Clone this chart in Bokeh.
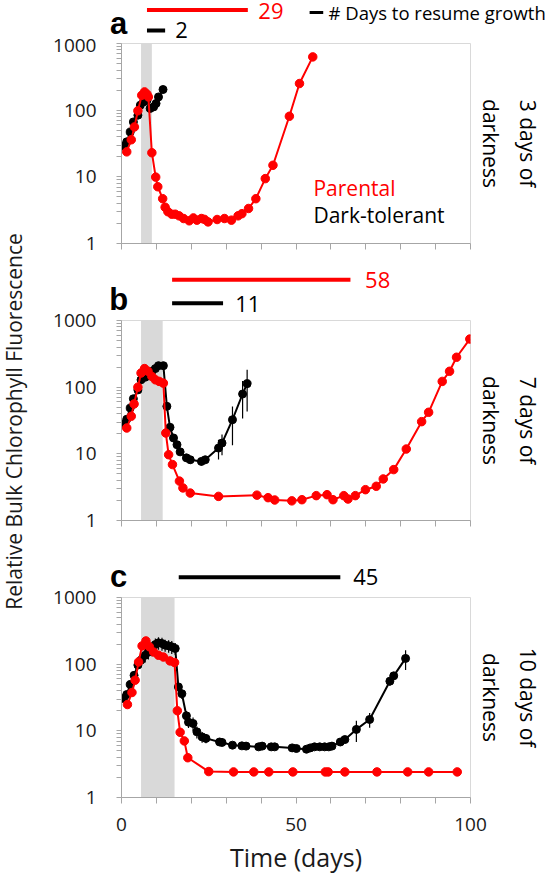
from math import pi
from bokeh.plotting import figure
from bokeh.models import Range1d, FixedTicker, PrintfTickFormatter, BoxAnnotation, Title
from bokeh.core.properties import value
from bokeh.layouts import row, column
from bokeh.embed import file_html
from bokeh.resources import INLINE

# ---------------- data (days, relative fluorescence) ----------------
# Panel a: 3 days of darkness
a_par_t = [1.5, 2.8, 3.7, 4.7, 5.8, 6.6, 7.3, 7.7, 8.7, 9.8, 10.4, 11.8, 12.5, 13.3, 14.4, 15.4, 16.5, 17.8,
           19.4, 20.6, 21.6, 22.9, 23.8, 24.8, 27.4, 29.5, 31.5, 33.4, 34.5, 36.4, 38.5, 41.2, 43.4, 48.1, 51.0, 54.8]
a_par_v = [23.7, 36, 56, 98, 167, 188, 173, 158, 23, 9.9, 7.1, 4.7, 3.5, 3.0, 2.75, 2.75, 2.6, 2.37,
           2.19, 2.42, 2.24, 2.37, 2.3, 2.11, 2.29, 2.37, 2.24, 2.6, 2.8, 3.35, 4.7, 9.4, 14.9, 81, 251, 630]
a_dt_t = [0.6, 1.5, 2.5, 3.4, 4.7, 5.4, 6.3, 7.3, 8.2, 9.2, 9.9, 10.6, 11.9]
a_dt_v = [28.8, 33.5, 47, 66.6, 84, 119, 133, 141, 106, 112, 126, 158, 204]

# Panel b: 7 days of darkness
b_par_t = [1.5, 2.8, 3.6, 4.7, 5.6, 6.6, 7.6, 8.7, 9.7, 10.8, 12.0, 12.7, 13.5, 14.6, 16.6, 17.6, 19.7, 27.8,
           38.8, 42.0, 43.9, 48.8, 51.7, 55.8, 58.9, 60.6, 63.7, 64.9, 67.0, 69.9, 73.0, 75.0, 78.0, 81.6,
           86.0, 88.0, 91.9, 94.0, 96.0, 99.8]
b_par_v = [24.4, 36.6, 56, 100, 163, 190, 173, 145, 129, 122, 115, 20.5, 9.7, 6.9, 3.9, 3.08, 2.58, 2.3,
           2.4, 2.2, 2.03, 1.97, 2.05, 2.36, 2.44, 2.05, 2.36, 2.1, 2.36, 2.9, 3.26, 4.2, 5.8, 11.8,
           30.4, 42, 122, 173, 281, 527]
b_dt_t = [0.6, 1.5, 2.5, 3.4, 4.7, 5.6, 6.8, 7.7, 8.7, 9.7, 10.6, 12.0, 13.0, 13.9, 14.9, 15.9, 16.8, 18.6,
          19.7, 22.9, 24.0, 27.8, 28.8, 31.8, 34.7, 36.0]
b_dt_v = [28, 33, 48.6, 67, 91, 129, 141, 158, 173, 190, 210, 210, 51.6, 25, 17.3, 13.7, 10.7, 8.7,
          8.15, 7.7, 8.15, 12.2, 14.5, 32.5, 79, 113]
b_dt_err = [3, 3, 5, 7, 10, 15, 15, 18, 20, 22, 25, 25, 6, 3, 2, 1.5, 1.2, 1, 1, 1, 1, 4, 5, 19, 45, 70]

# Panel c: 10 days of darkness
c_par_t = [1.7, 3.0, 3.9, 4.9, 5.9, 7.0, 8.0, 9.2, 10.6, 12.0, 13.9, 15.2, 16.0, 16.8, 18.0, 19.0, 25.0, 32.1,
           37.9, 42.2, 49.1, 58.4, 59.2, 64.0, 73.2, 82.0, 88.0, 96.2]
c_par_v = [24.8, 37.6, 57.5, 108, 188, 223, 182, 152, 136, 128, 112, 106, 20, 9.5, 7.06, 3.95, 2.45, 2.42,
           2.42, 2.42, 2.42, 2.42, 2.42, 2.42, 2.42, 2.42, 2.42, 2.42]
c_dt_t = [0.6, 1.5, 2.5, 3.6, 4.7, 5.6, 6.8, 7.7, 8.7, 9.7, 10.6, 11.6, 12.5, 13.5, 14.4, 15.4, 16.3, 17.3,
          18.6, 19.2, 20.5, 21.6, 23.1, 24.2, 28.1, 28.8, 31.8, 34.5, 35.7, 39.3, 40.3, 42.9, 43.9, 48.9,
          50.1, 53.0, 54.1, 55.3, 56.8, 58.2, 59.4, 60.3, 62.7, 64.0, 67.3, 71.1, 76.9, 78.0, 81.4]
c_dt_v = [30.5, 35, 49.5, 68, 97, 115, 136, 152, 172, 197, 209, 204, 193, 188, 182, 172, 45.6, 36,
          16.8, 13.5, 12.9, 9.66, 8.1, 7.7, 6.8, 6.7, 6.1, 5.95, 5.9, 5.75, 5.9, 5.75, 5.75, 5.55,
          5.43, 5.3, 5.55, 5.75, 5.75, 5.75, 5.75, 5.9, 6.8, 7.4, 10.5, 14.8, 55.6, 66.8, 122]
c_dt_err = [3, 3.5, 5, 7, 10, 25, 30, 35, 40, 45, 45, 45, 40, 40, 40, 35, 8, 6,
            3, 2.5, 3, 2, 1.5, 1.2, 0.7, 0.7, 0.6, 0.6, 0.6, 0.6, 0.6, 0.6, 0.6, 0.6,
            0.6, 0.6, 0.6, 0.6, 0.6, 0.6, 0.6, 0.6, 0.8, 0.8, 3.7, 3.7, 8, 8, 40]

# darkness windows (days)
dark_start = [5.6, 5.6, 5.6]
dark_end = [8.7, 11.8, 15.2]
dark_len = ["3", "7", "10"]

# days to resume growth (bars above each panel): [parental, dark-tolerant]
a_bar_x0 = [7.3, 7.3]
a_bar_x1 = [36.2, 12.5]
a_bar_lbl = ["29", "2"]
b_bar_x0 = [14.5, 14.5]
b_bar_x1 = [65.6, 29.1]
b_bar_lbl = ["58", "11"]
c_bar_x0 = [16.4]
c_bar_x1 = [62.7]
c_bar_lbl = ["45"]

x_ticks = [0, 50, 100]
x_minor = [10, 20, 30, 40, 60, 70, 80, 90]
x_all = [0, 10, 20, 30, 40, 50, 60, 70, 80, 90, 100]
y_ticks = [1, 10, 100, 1000]
y_minor = [2, 3, 4, 5, 6, 7, 8, 9, 20, 30, 40, 50, 60, 70, 80, 90, 200, 300, 400, 500, 600, 700, 800, 900]

RED = "#ff0000"
BLK = "#000000"
TXT = "#1a1a1a"
FONT = "Open Sans"

# geometry (pixels)
YLAB_W = 33
BL, FW, BR = 88, 349, 79          # left border, frame width, right border of panels
FH = 200
HDR = [(0, 38), (253, 312), (530, 589)]   # page y spans of the header strips
PANEL_TOP = [5, 8, 8]
PANEL_BOTTOM = [10, 10, 73]
TOTAL_H = 870
XL = -BL * 100.0 / FW
XR = (FW + BR) * 100.0 / FW


def panel(i, show_labels):
    p = figure(frame_width=FW, frame_height=FH, x_range=Range1d(0, 100), y_range=Range1d(1, 1000),
               y_axis_type="log", title=None, toolbar_location=None, output_backend="svg",
               min_border_left=BL, min_border_right=BR, min_border_top=PANEL_TOP[i],
               min_border_bottom=PANEL_BOTTOM[i])
    p.frame_align = False
    p.xgrid.visible = False
    p.ygrid.visible = False
    p.outline_line_color = "#d9d9d9"
    if show_labels:
        p.xaxis.ticker = FixedTicker(ticks=x_ticks, minor_ticks=x_minor)
    else:
        # tick marks only, no labelled ticks on the upper panels
        p.xaxis.ticker = FixedTicker(ticks=[], minor_ticks=x_all)
    p.yaxis.ticker = FixedTicker(ticks=y_ticks, minor_ticks=y_minor)
    p.yaxis.formatter = PrintfTickFormatter(format="%d")
    for ax in (p.xaxis, p.yaxis):
        ax.axis_line_color = "#a6a6a6"
        ax.major_tick_line_color = "#a6a6a6"
        ax.minor_tick_line_color = "#a6a6a6"
        ax.major_tick_in = 0
        ax.minor_tick_in = 0
        ax.major_label_text_font = FONT
        ax.major_label_text_color = TXT
    p.xaxis.major_tick_out = 6
    p.xaxis.minor_tick_out = 6
    p.yaxis.major_tick_out = 5
    p.yaxis.minor_tick_out = 5
    p.yaxis.major_label_text_font_size = "19px"
    p.yaxis.major_label_standoff = 20
    if show_labels:
        p.xaxis.major_label_text_font_size = "19px"
        p.xaxis.major_label_standoff = 14
        p.xaxis.axis_label = "Time (days)"
        p.xaxis.axis_label_text_font = FONT
        p.xaxis.axis_label_text_font_size = "25px"
        p.xaxis.axis_label_text_font_style = "normal"
        p.xaxis.axis_label_text_color = TXT
        p.xaxis.axis_label_standoff = 6
    else:
        p.xaxis.major_label_standoff = 0
    # right-hand description, nearest line first
    p.add_layout(Title(text="darkness", text_font=FONT, text_font_size="21px", text_font_style="normal",
                       text_color=BLK, align="center", standoff=13), "right")
    p.add_layout(Title(text=dark_len[i] + " days of", text_font=FONT, text_font_size="21px",
                       text_font_style="normal", text_color=BLK, align="center", standoff=0), "right")
    p.add_layout(BoxAnnotation(left=dark_start[i], right=dark_end[i], fill_color="#d9d9d9",
                               fill_alpha=1, line_color=None, level="underlay"))
    return p


def series(p, par_t, par_v, dt_t, dt_v, dt_err):
    if dt_err is not None:
        lo = [max(v - e, 1.0001) for v, e in zip(dt_v, dt_err)]
        hi = [v + e for v, e in zip(dt_v, dt_err)]
        p.segment(x0=dt_t, y0=lo, x1=dt_t, y1=hi, line_color=BLK, line_width=1.2)
    p.line(dt_t, dt_v, line_color=BLK, line_width=2)
    p.scatter(dt_t, dt_v, size=8, color=BLK)
    if par_t is not None:
        p.line(par_t, par_v, line_color=RED, line_width=2)
        p.scatter(par_t, par_v, size=8.5, color=RED)


def header(i, letter, bx0, bx1, blbl, cols, bar_y, lbl_x, lbl_y, letter_y):
    top, bot = HDR[i]
    h = figure(width=BL + FW + BR, height=bot - top, x_range=Range1d(XL, XR), y_range=Range1d(bot, top),
               toolbar_location=None, output_backend="svg", x_axis_location=None, y_axis_location=None,
               title=None, min_border=0)
    h.frame_align = False
    h.grid.visible = False
    h.outline_line_color = None
    h.segment(x0=bx0, y0=bar_y, x1=bx1, y1=bar_y, line_color=cols, line_width=4, line_cap="butt")
    h.text(x=lbl_x, y=lbl_y, text=blbl, text_color=cols, text_font=value(FONT), text_font_size=value("22px"),
           text_align="left", text_baseline="middle")
    h.text(x=[-0.8], y=[letter_y], text=[letter], text_color=BLK, text_font=value("Liberation Sans"),
           text_font_style="bold", text_font_size=value("31px"), text_align="center",
           text_baseline="middle")
    return h


ha = header(0, "a", a_bar_x0, a_bar_x1, a_bar_lbl, [RED, BLK], [9.5, 30], [39.2, 15.4], [10.5, 29.5], 22.5)
ha.segment(x0=[53.9], y0=[12], x1=[57.8], y1=[12], line_color=BLK, line_width=3, line_cap="butt")
ha.text(x=[59.3], y=[12], text=["# Days to resume growth"], text_color=BLK, text_font=value(FONT),
        text_font_size=value("18.5px"), text_align="left", text_baseline="middle")
pa = panel(0, False)
series(pa, a_par_t, a_par_v, a_dt_t, a_dt_v, None)
pa.text(x=[55.0, 55.0], y=[10 ** 0.83, 10 ** 0.43], text=["Parental", "Dark-tolerant"], text_color=[RED, BLK],
        text_font=value(FONT), text_font_size=value("21px"), text_align="left", text_baseline="middle")

hb = header(1, "b", b_bar_x0, b_bar_x1, b_bar_lbl, [RED, BLK], [279.3, 302.7], [69.8, 32.6], [279, 303.5],
            299)
pb = panel(1, False)
series(pb, b_par_t, b_par_v, b_dt_t, b_dt_v, b_dt_err)

hc = header(2, "c", c_bar_x0, c_bar_x1, c_bar_lbl, [BLK], [576.7], [66.4], [576], 575.5)
pc = panel(2, True)
series(pc, c_par_t, c_par_v, c_dt_t, c_dt_v, c_dt_err)

ylab = figure(width=YLAB_W, height=TOTAL_H, x_range=Range1d(0, YLAB_W), y_range=Range1d(TOTAL_H, 0),
              toolbar_location=None, output_backend="svg", x_axis_location=None, y_axis_location=None,
              title=None, min_border=0)
ylab.frame_align = False
ylab.grid.visible = False
ylab.outline_line_color = None
ylab.text(x=[13], y=[421], text=["Relative Bulk Chlorophyll Fluorescence"], angle=pi / 2,
          text_font=value(FONT), text_font_size=value("21px"), text_align="center", text_baseline="middle",
          text_color=TXT)

layout = row(ylab, column(ha, pa, hb, pb, hc, pc, spacing=0), spacing=0)
open("out.html", "w").write(file_html(layout, INLINE))
